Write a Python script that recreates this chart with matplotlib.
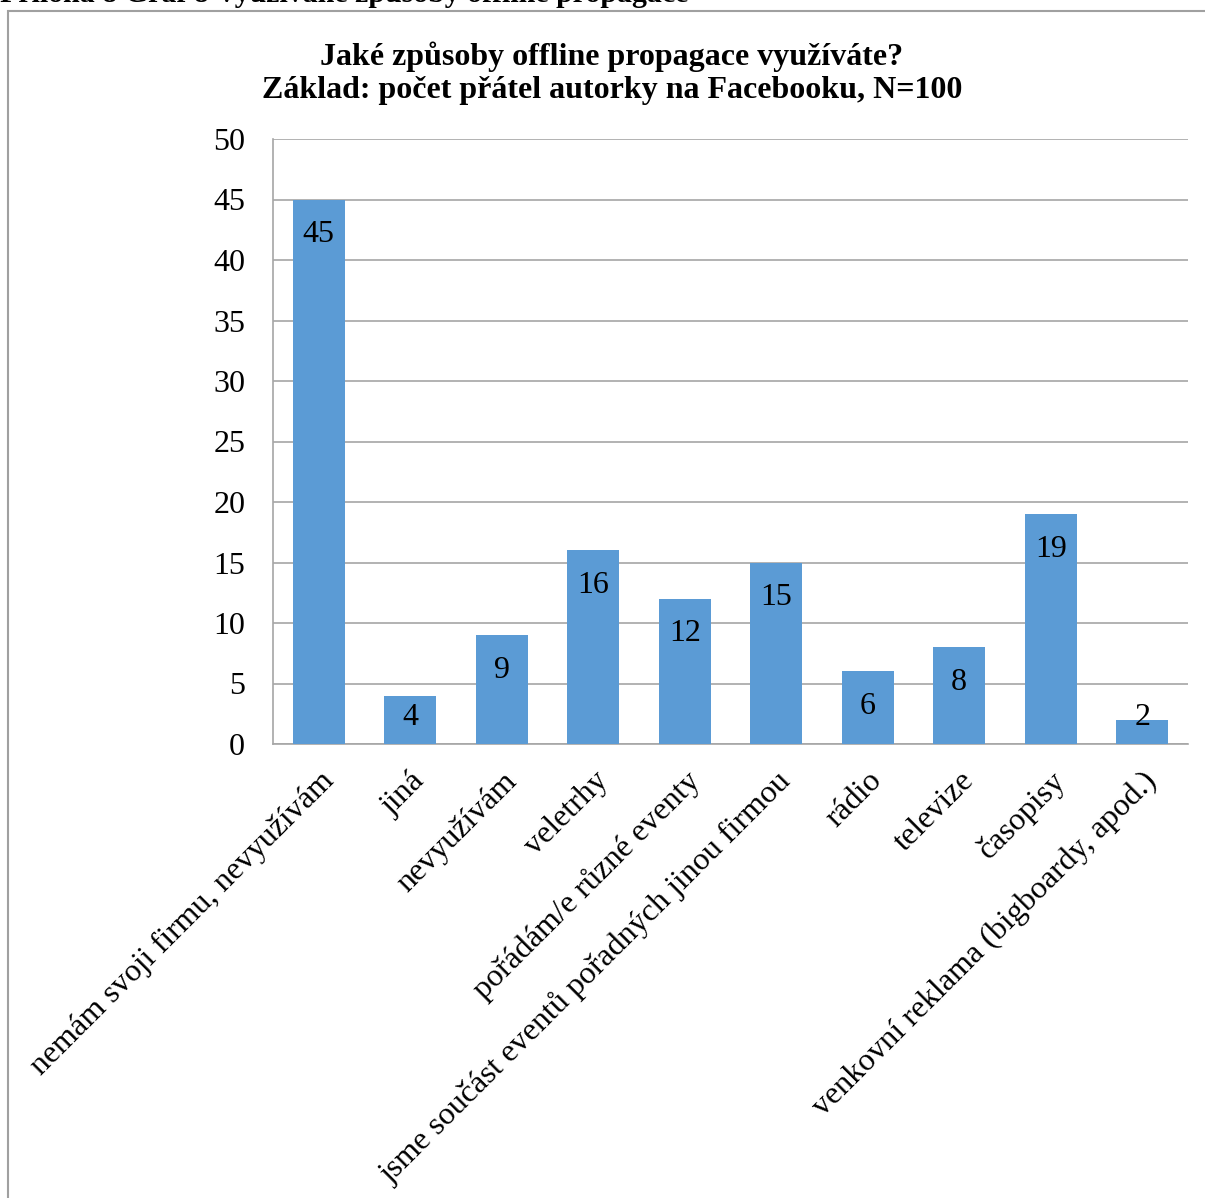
import matplotlib.pyplot as plt
from matplotlib.patches import Rectangle


categories = [
    "nemám svoji firmu, nevyužívám",
    "jiná",
    "nevyužívám",
    "veletrhy",
    "pořádám/e různé eventy",
    "jsme součást eventů pořadných jinou firmou",
    "rádio",
    "televize",
    "časopisy",
    "venkovní reklama (bigboardy, apod.)",
]
counts = [45, 4, 9, 16, 12, 15, 6, 8, 19, 2]
y_ticks = [0, 5, 10, 15, 20, 25, 30, 35, 40, 45, 50]

BAR_COLOR = "#5B9BD5"
GRID_COLOR = "#A6A6A6"

plt.rcParams["font.family"] = ["Liberation Serif", "DejaVu Serif"]

fig = plt.figure(figsize=(12.05, 11.98), dpi=100)

# page caption above the chart box (cut by the top edge)
fig.text(0.0, 1 - 2 / 1198, "Příloha 8 Graf 8 Využívané způsoby offline propagace",
         fontsize=21.5, fontweight="bold", ha="left", va="baseline")

# chart frame
fig.patches.append(Rectangle((8 / 1205, -0.1), 1.2, 1 - 11 / 1198 + 0.1,
                             transform=fig.transFigure, fill=False,
                             edgecolor="#A0A0A0", linewidth=1.5))

ax = fig.add_axes([273 / 1205, 1 - 744 / 1198, (1188 - 273) / 1205, (744 - 139) / 1198])

x = list(range(len(categories)))
ax.bar(x, counts, width=0.57, color=BAR_COLOR, zorder=3)

# value labels sit just inside the bar end, or rest on the baseline for short bars
for xi, v in zip(x, counts):
    ax.text(xi, max(v - 2.9, 2.2), str(v), ha="center", va="center",
            fontsize=23, zorder=4)

ax.set_xlim(-0.5, len(categories) - 0.5)
ax.set_ylim(0, 50)
ax.set_yticks(y_ticks)
ax.set_yticklabels([str(t) for t in y_ticks], fontsize=23)
ax.set_xticks(x)
ax.set_xticklabels(categories, rotation=45, ha="right", rotation_mode="anchor",
                   fontsize=23)
ax.tick_params(axis="both", length=0)
ax.tick_params(axis="y", pad=20)
ax.tick_params(axis="x", pad=16)

ax.grid(axis="y", color=GRID_COLOR, linewidth=1.2, zorder=0)
for side in ["top", "right"]:
    ax.spines[side].set_visible(False)
for side in ["left", "bottom"]:
    ax.spines[side].set_color(GRID_COLOR)
    ax.spines[side].set_linewidth(1.2)

fig.text(612 / 1205, 1 - 73 / 1198,
         "Jaké způsoby offline propagace využíváte?\n"
         "Základ: počet přátel autorky na Facebooku, N=100",
         fontsize=23, fontweight="bold", ha="center", va="center",
         linespacing=1.2)

fig.savefig("out.png", dpi=100)
